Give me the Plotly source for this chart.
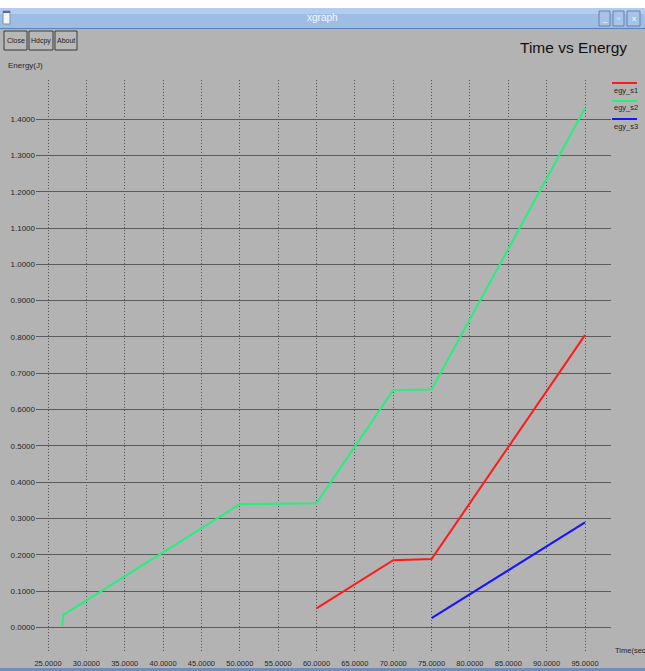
import plotly.graph_objects as go

# ---- data ----
time_s1 = [60, 70, 75, 95]
egy_s1 = [0.052, 0.185, 0.188, 0.805]
time_s2 = [26.86, 27.0, 50, 60, 70, 75, 95]
egy_s2 = [0.004, 0.034, 0.339, 0.342, 0.653, 0.655, 1.43]
time_s3 = [75, 95]
egy_s3 = [0.025, 0.289]
series_names = ["egy_s1", "egy_s2", "egy_s3"]
series_colors = ["#ff1a1a", "#22f07f", "#1414ff"]
x_ticks = [25, 30, 35, 40, 45, 50, 55, 60, 65, 70, 75, 80, 85, 90, 95]
y_ticks = [0.0, 0.1, 0.2, 0.3, 0.4, 0.5, 0.6, 0.7, 0.8, 0.9, 1.0, 1.1, 1.2, 1.3, 1.4]

W, H = 645, 671
L, R, T, B = 36, 611, 80, 653
BG = "#b3b3b3"
FONT = "Liberation Sans Narrow, Liberation Sans, Arial, sans-serif"
TXT = "#262626"


def px(x):
    return (x - L) / (R - L)


def py(y):
    return (B - y) / (B - T)


fig = go.Figure()
for xs, ys, name, col in zip([time_s1, time_s2, time_s3], [egy_s1, egy_s2, egy_s3],
                             series_names, series_colors):
    fig.add_trace(go.Scatter(x=xs, y=ys, mode="lines", name=name,
                             line=dict(color=col, width=2), showlegend=False))

shapes = []
annotations = []

# window chrome: white strip, title bar
shapes.append(dict(type="rect", xref="paper", yref="paper", x0=px(0), x1=px(W),
                   y0=py(0), y1=py(8), fillcolor="white", line=dict(width=0), layer="above"))
shapes.append(dict(type="rect", xref="paper", yref="paper", x0=px(0), x1=px(W),
                   y0=py(8), y1=py(28), fillcolor="#9ebde5", line=dict(width=0), layer="above"))
shapes.append(dict(type="rect", xref="paper", yref="paper", x0=px(0), x1=px(W),
                   y0=py(8), y1=py(14), fillcolor="#b4cdee", line=dict(width=0), layer="above"))
shapes.append(dict(type="line", xref="paper", yref="paper", x0=px(0), x1=px(W),
                   y0=py(28.5), y1=py(28.5), line=dict(color="#5f82b5", width=1), layer="above"))
# window icon
shapes.append(dict(type="rect", xref="paper", yref="paper", x0=px(3), x1=px(10),
                   y0=py(11), y1=py(24), fillcolor="#f4f4f4", line=dict(color="#7d8fa8", width=1),
                   layer="above"))
shapes.append(dict(type="rect", xref="paper", yref="paper", x0=px(3), x1=px(10),
                   y0=py(11), y1=py(13), fillcolor="#4a6fa8", line=dict(width=0), layer="above"))
# window buttons at right
for x0, x1 in [(599, 610), (613, 624), (627, 640)]:
    shapes.append(dict(type="rect", xref="paper", yref="paper", x0=px(x0), x1=px(x1),
                       y0=py(11), y1=py(26), fillcolor="#a9c3e6",
                       line=dict(color="#5f82b5", width=1), layer="above"))
for xc, t in [(604.5, "_"), (618.5, "▫"), (633.5, "x")]:
    annotations.append(dict(xref="paper", yref="paper", x=px(xc), y=py(18.5), text=t,
                            showarrow=False, font=dict(family=FONT, size=8, color="white"),
                            xanchor="center", yanchor="middle"))
annotations.append(dict(xref="paper", yref="paper", x=px(322), y=py(18), text="xgraph",
                        showarrow=False, font=dict(family=FONT, size=10, color="#f5f8fc"),
                        xanchor="center", yanchor="middle"))
# bottom window border
shapes.append(dict(type="rect", xref="paper", yref="paper", x0=px(0), x1=px(W),
                   y0=py(668), y1=py(671), fillcolor="#6f8fba", line=dict(width=0), layer="above"))

# xgraph buttons
for x0, x1, t in [(4, 27, "Close"), (29, 53, "Hdcpy"), (55, 77, "About")]:
    shapes.append(dict(type="rect", xref="paper", yref="paper", x0=px(x0), x1=px(x1),
                       y0=py(31), y1=py(50), fillcolor="#b8b8b8",
                       line=dict(color="#3a3a3a", width=1), layer="above"))
    annotations.append(dict(xref="paper", yref="paper", x=px((x0 + x1) / 2), y=py(40.5), text=t,
                            showarrow=False, font=dict(family=FONT, size=7, color="#202020"),
                            xanchor="center", yanchor="middle"))

# chart title and axis labels
annotations.append(dict(xref="paper", yref="paper", x=px(573), y=py(47), text="Time vs Energy",
                        showarrow=False, font=dict(family=FONT, size=15.5, color="#111111"),
                        xanchor="center", yanchor="middle"))
annotations.append(dict(xref="paper", yref="paper", x=px(6), y=py(65), text="Energy(J)",
                        showarrow=False, font=dict(family=FONT, size=8, color=TXT),
                        xanchor="left", yanchor="middle"))
annotations.append(dict(xref="paper", yref="paper", x=px(613), y=py(650), text="Time(sec",
                        showarrow=False, font=dict(family=FONT, size=7.5, color=TXT),
                        xanchor="left", yanchor="middle"))

# legend (xgraph style: colored line above name)
for i, (name, col) in enumerate(zip(series_names, series_colors)):
    ly = 83 + i * 18
    shapes.append(dict(type="line", xref="paper", yref="paper", x0=px(612), x1=px(637),
                       y0=py(ly), y1=py(ly), line=dict(color=col, width=2), layer="above"))
    annotations.append(dict(xref="paper", yref="paper", x=px(612), y=py(ly + 7), text=name,
                            showarrow=False, font=dict(family=FONT, size=7.5, color=TXT),
                            xanchor="left", yanchor="middle"))

x_per_px = (95 - 25) / (585 - 48)
y0_px, y_per_px = 627.3, 0.1 / 36.3
x_range = [25 - (48 - L) * x_per_px, 95 + (R - 585) * x_per_px]
y_range = [-(B - y0_px) * y_per_px, (y0_px - T) * y_per_px]

fig.update_layout(
    width=W, height=H,
    margin=dict(l=L, r=W - R, t=T, b=H - B, pad=0, autoexpand=False),
    paper_bgcolor=BG, plot_bgcolor=BG,
    showlegend=False,
    shapes=shapes, annotations=annotations,
    font=dict(family=FONT, size=8, color=TXT),
    xaxis=dict(range=x_range, tickvals=x_ticks, tickformat=".4f", showgrid=True,
               gridcolor="#555555", griddash="1px,2px", gridwidth=1, zeroline=False,
               showline=False, ticks="", tickangle=0, automargin=False, ticklabelstandoff=4,
               tickfont=dict(family=FONT, size=7.5, color=TXT), fixedrange=True),
    yaxis=dict(range=y_range, tickvals=y_ticks, tickformat=".4f", showgrid=True,
               gridcolor="#5a5a5a", gridwidth=1, zeroline=False, showline=False, ticks="",
               automargin=False, tickfont=dict(family=FONT, size=8, color=TXT),
               fixedrange=True),
)

fig.write_html("out.html", config={"displayModeBar": False})
